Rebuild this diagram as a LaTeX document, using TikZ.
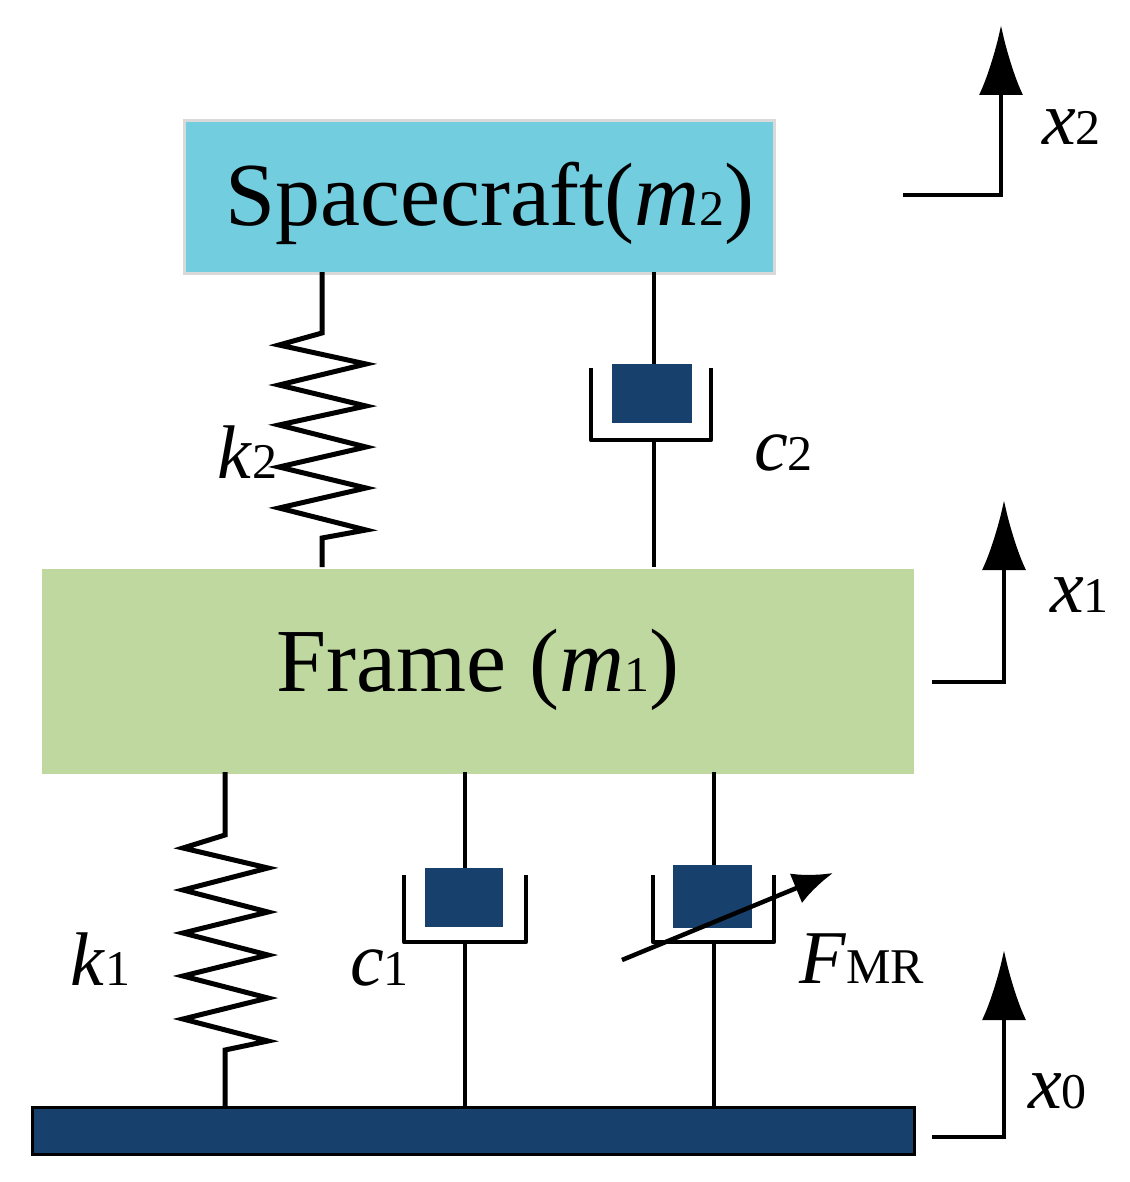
\documentclass[tikz,border=0pt]{standalone}
\usepackage{fontspec}
\setmainfont{Liberation Serif}
\usetikzlibrary{arrows.meta}
\begin{document}
\begin{tikzpicture}[x=1pt,y=-1pt,line width=4.5pt,
  big/.style={font=\fontsize{90}{94}\selectfont,inner sep=0pt},
  lab/.style={font=\fontsize{76}{80}\selectfont,inner sep=0pt,anchor=base west},
  cup/.style={line width=4.5pt,line join=round},
  spring/.style={line width=5pt,line join=miter},
  dir/.style={line width=4.5pt,-{Latex[length=70pt,width=44pt]}}]
\definecolor{piston}{HTML}{17406D}
\definecolor{sc}{HTML}{72CDDF}
\definecolor{fr}{HTML}{BFD89F}
\newcommand{\sub}[1]{{\fontsize{50}{50}\selectfont #1}}
\useasboundingbox (0,0) rectangle (1129,1182);
% masses
\node[draw=black!15,line width=3pt,fill=sc,minimum width=590pt,minimum height=153pt,anchor=north west] (m2) at (183,119) {};
\node[big] at (490,203) {Spacecraft(\textit{m}\sub{2})};
\node[fill=fr,minimum width=872pt,minimum height=205pt,anchor=north west,inner sep=0] (m1) at (40,567) {};
\node[big] at (478,670) {Frame (\textit{m}\sub{1})};
\node[draw=black,line width=3pt,fill=piston,minimum width=882pt,minimum height=47pt,anchor=north west,inner sep=0] (g) at (31,1106) {};
% spring k2
\draw[spring] (322,272) -- (322,333) -- (279,345) -- (366,364) -- (279,385) -- (366,406) -- (279,425) -- (366,447) -- (279,467) -- (366,488) -- (279,508) -- (366,530) -- (322,538) -- (322,567);
% damper c2
\draw (654,272) -- (654,364);
\fill[piston] (612,364) rectangle (692,423);
\draw[cup] (591,368) -- (591,440) -- (711,440) -- (711,368);
\draw (654,440) -- (654,567);
% spring k1
\draw[spring] (225,772) -- (225,835) -- (183,848) -- (268,868) -- (183,890) -- (268,912) -- (183,933) -- (268,955) -- (183,976) -- (268,998) -- (183,1019) -- (268,1041) -- (225,1050) -- (225,1106);
% damper c1
\draw (465,772) -- (465,868);
\fill[piston] (425,868) rectangle (503,927);
\draw[cup] (404,875) -- (404,942) -- (526,942) -- (526,875);
\draw (465,942) -- (465,1106);
% MR damper
\draw (714,772) -- (714,865);
\fill[piston] (673,865) rectangle (752,928);
\draw[cup] (653,875) -- (653,942) -- (774,942) -- (774,875);
\draw (714,942) -- (714,1106);
\coordinate (mra) at (622,960); \coordinate (mrb) at (833,873);
\draw[line width=4.5pt,-{Latex[length=40pt,width=32pt]}] (mra) -- (mrb);
% labels
\node[lab] at (215,478) {\textit{k}\sub{2}};
\node[lab] at (752,470) {\textit{c}\sub{2}};
\node[lab] at (68,985) {\textit{k}\sub{1}};
\node[lab] at (348,985) {\textit{c}\sub{1}};
\node[lab] at (797,983) {\textit{F}\sub{MR}};
\node[lab] at (1040,145) {\textit{x}\sub{2}};
\node[lab] at (1048,612) {\textit{x}\sub{1}};
\node[lab] at (1026,1108) {\textit{x}\sub{0}};
% motion arrows
\coordinate (a2) at (903,195); \coordinate (b2) at (1001,195); \coordinate (c2) at (1001,25);
\draw[dir] (a2) -- (b2) -- (c2);
\coordinate (a1) at (932,682); \coordinate (b1) at (1004,682); \coordinate (c1) at (1004,500);
\draw[dir] (a1) -- (b1) -- (c1);
\coordinate (a0) at (932,1137); \coordinate (b0) at (1004,1137); \coordinate (c0) at (1004,950);
\draw[dir] (a0) -- (b0) -- (c0);
\end{tikzpicture}
\end{document}
